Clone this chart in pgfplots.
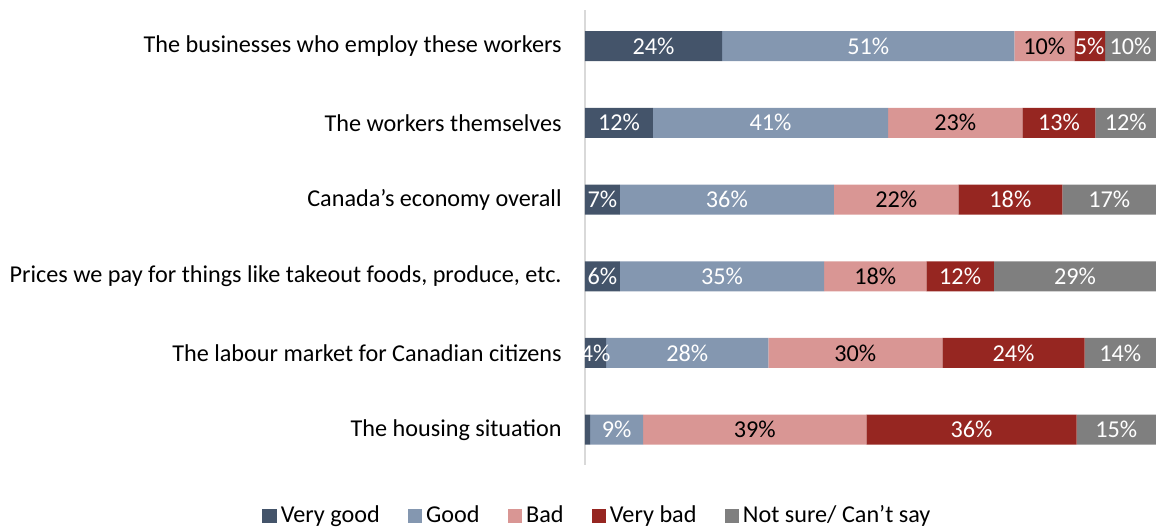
\documentclass[border=0pt]{standalone}
\usepackage{pgfplots}
\pgfplotsset{compat=1.18}
\usepackage{fontspec}
\setmainfont{Carlito}
\definecolor{vgood}{HTML}{44546A}
\definecolor{good}{HTML}{8497B0}
\definecolor{bad}{HTML}{D99694}
\definecolor{vbad}{HTML}{962621}
\definecolor{notsure}{HTML}{7F7F7F}
\definecolor{axisgray}{HTML}{D9D9D9}
\begin{document}
\fontsize{12.1}{14.5}\selectfont
\begin{tikzpicture}
\begin{axis}[
  name=ax,
  xbar stacked,
  scale only axis,
  width=285.5pt, height=227.5pt,
  bar width=15pt,
  xmin=0, xmax=100,
  ymin=-0.47, ymax=5.46,
  y dir=reverse,
  axis x line=none,
  axis y line*=left,
  y axis line style={draw=axisgray, line width=0.6pt, -},
  ytick={0,1,2,3,4,5},
  yticklabels={The businesses who employ these workers, The workers themselves, Canada’s economy overall, {Prices we pay for things like takeout foods, produce, etc.}, The labour market for Canadian citizens, The housing situation},
  major tick length=0pt,
  yticklabel style={inner sep=0pt, xshift=-11.5pt, font=\fontsize{12.1}{14.5}\selectfont},
  point meta=explicit symbolic,
  nodes near coords={\pgfplotspointmeta},
  every node near coord/.append style={anchor=center, inner sep=0pt, font=\fontsize{12.1}{14.5}\selectfont},
  legend columns=5,
  legend style={draw=none, inner sep=0pt, at={(axis description cs:0.0235,0)}, anchor=center, yshift=-25.5pt, font=\fontsize{12.1}{14.5}\selectfont, /tikz/every even column/.append style={column sep=12pt}},
  legend image code/.code={\fill[#1] (0pt,-3.6pt) rectangle (7.2pt,3.6pt);},
]
\addplot[fill=vgood, draw=none, every node near coord/.append style={text=white}] coordinates {(24.0,0) [24\%] (11.9,1) [12\%] (6.1,2) [7\%] (6.1,3) [6\%] (3.7,4) [4\%] (0.9,5) []};
\addlegendentry{Very good}
\addplot[fill=good, draw=none, every node near coord/.append style={text=white}] coordinates {(51.2,0) [51\%] (41.2,1) [41\%] (37.5,2) [36\%] (35.8,3) [35\%] (28.4,4) [28\%] (9.3,5) [9\%]};
\addlegendentry{Good}
\addplot[fill=bad, draw=none, every node near coord/.append style={text=black}] coordinates {(10.5,0) [10\%] (23.5,1) [23\%] (21.8,2) [22\%] (17.9,3) [18\%] (30.5,4) [30\%] (39.1,5) [39\%]};
\addlegendentry{Bad}
\addplot[fill=vbad, draw=none, every node near coord/.append style={text=white}] coordinates {(5.4,0) [5\%] (12.8,1) [13\%] (18.2,2) [18\%] (11.8,3) [12\%] (24.9,4) [24\%] (36.8,5) [36\%]};
\addlegendentry{Very bad}
\addplot[fill=notsure, draw=none, every node near coord/.append style={text=white}] coordinates {(8.9,0) [10\%] (10.6,1) [12\%] (16.4,2) [17\%] (28.4,3) [29\%] (12.5,4) [14\%] (13.9,5) [15\%]};
\addlegendentry{Not sure/ Can’t say}
\end{axis}
\pgfresetboundingbox
\path ([shift={(-292.5pt,5pt)}]ax.north west) rectangle ([yshift=-32pt]ax.south east);
\end{tikzpicture}
\end{document}
